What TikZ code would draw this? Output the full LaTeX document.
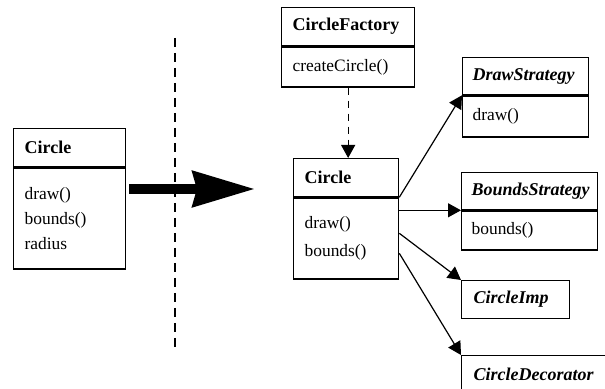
\documentclass[tikz,border=0pt]{standalone}
\usepackage{fontspec}
\setmainfont{Liberation Serif}
\usetikzlibrary{arrows.meta,positioning}
\tikzset{
	classhead/.style={draw, line width=0.65pt, inner xsep=5.5pt, inner ysep=0pt, align=left, minimum height=19pt, font=\fontsize{9pt}{12pt}\selectfont\bfseries},
	classbody/.style={draw, line width=0.65pt, inner xsep=5.5pt, inner ysep=0pt, align=left},
}
\begin{document}
\begin{tikzpicture}[x=0.5pt, y=-0.5pt, >={Triangle[length=6.5pt,width=7pt]}, font=\fontsize{8.7pt}{12.5pt}\selectfont, line join=miter]
		\useasboundingbox (0,0) rectangle (605,389);
		\clip (0,0) rectangle (605,389);
		%	\draw[color=gray!50] (0,0) grid[step=50] (605,389);
		% before
		\node[classhead, anchor=north west, text width=45pt] (lhead) at (13,128) {Circle};
		\node[classbody, below=0pt of lhead, text width=45pt, minimum height=50.5pt] (lbody) {draw()\\bounds()\\radius};
		% divider and big arrow
		\coordinate (divtop) at (175,38);
		\coordinate (divbot) at (175,352);
		\draw[line width=0.6pt, dash pattern=on 4.5pt off 3pt] (divtop)--(divbot);
		\coordinate (bigtip) at (255,189);
		\draw[line width=5pt, -{Stealth[length=31pt,width=17.5pt,inset=2pt]}, shorten <=1.5pt] (lbody.east |- bigtip)--(bigtip);
		% after
		\node[classhead, anchor=north west, text width=55.5pt] (fhead) at (281,7) {CircleFactory};
		\node[classbody, below=0pt of fhead, text width=55.5pt, minimum height=20pt] (fbody) {createCircle()};
		\node[classhead, anchor=north west, text width=41.5pt] (chead) at (293,158) {Circle};
		\node[classbody, below=0pt of chead, text width=41.5pt, minimum height=40.5pt, font=\fontsize{8.7pt}{14pt}\selectfont] (cbody) {draw()\\bounds()};
		\node[classhead, anchor=north west, text width=53pt, inner xsep=5pt, minimum height=18.5pt] (dhead) at (462,57) {\textit{DrawStrategy}};
		\node[classbody, below=0pt of dhead, text width=53pt, inner xsep=5pt, minimum height=20.5pt] (dbody) {draw()};
		\node[classhead, anchor=north west, text width=58pt, inner xsep=5pt, minimum height=18.5pt] (bhead) at (461,172) {\textit{BoundsStrategy}};
		\node[classbody, below=0pt of bhead, text width=58pt, inner xsep=5pt, minimum height=19.5pt] (bbody) {bounds()};
		\node[classhead, anchor=north west, text width=42pt, inner xsep=6pt] (imp) at (461,280) {\textit{CircleImp}};
		\node[classhead, anchor=north west, text width=70pt, inner xsep=6pt] (deco) at (461,355) {\textit{CircleDecorator}};
		% links
		\draw[->, line width=0.6pt, dash pattern=on 3.5pt off 3pt] (fbody.south)--(fbody.south |- chead.north);
		\draw[->, line width=0.6pt] (cbody.north east)--(dhead.south west);
		\draw[->, line width=0.6pt] (cbody.east |- bhead.south west)--(bhead.south west);
		\draw[->, line width=0.6pt] ([yshift=-18pt]cbody.north east)--(imp.north west);
		\draw[->, line width=0.6pt] ([yshift=-28pt]cbody.north east)--(deco.north west);
		\end{tikzpicture}
\end{document}
